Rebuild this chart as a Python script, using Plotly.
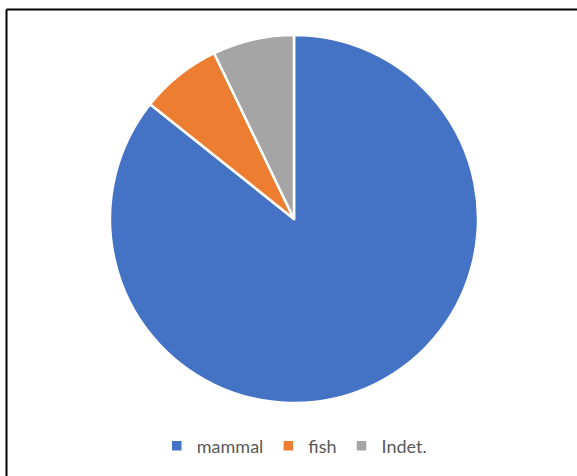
import plotly.graph_objects as go

categories = ["mammal", "fish", "Indet."]
counts = [12, 1, 1]
colors = ["#4472C4", "#ED7D31", "#A5A5A5"]

W, H = 577, 476

fig = go.Figure(
    go.Pie(
        labels=categories,
        values=counts,
        sort=False,
        direction="clockwise",
        rotation=0,
        textinfo="none",
        hoverinfo="label+value+percent",
        marker=dict(colors=colors, line=dict(color="white", width=2.5)),
        domain=dict(x=[110 / W, 478 / W], y=[1 - 403 / H, 1 - 35 / H]),
    )
)

# chart frame: left and top edges visible
fig.add_shape(type="line", xref="paper", yref="paper",
              x0=6.5 / W, x1=6.5 / W, y0=-0.1, y1=1 - 9.5 / H,
              line=dict(color="black", width=2))
fig.add_shape(type="line", xref="paper", yref="paper",
              x0=6.5 / W, x1=1.1, y0=1 - 9.5 / H, y1=1 - 9.5 / H,
              line=dict(color="black", width=2))

fig.update_layout(
    width=W,
    height=H,
    margin=dict(l=0, r=0, t=0, b=0),
    paper_bgcolor="white",
    plot_bgcolor="white",
    showlegend=True,
    legend=dict(
        orientation="h",
        x=0.51,
        xanchor="center",
        y=1 - 446 / H,
        yanchor="middle",
        font=dict(family="Lato, Open Sans, sans-serif", size=18, color="#595959"),
        itemwidth=30,
        traceorder="normal",
    ),
)

fig.write_html("out.html")
